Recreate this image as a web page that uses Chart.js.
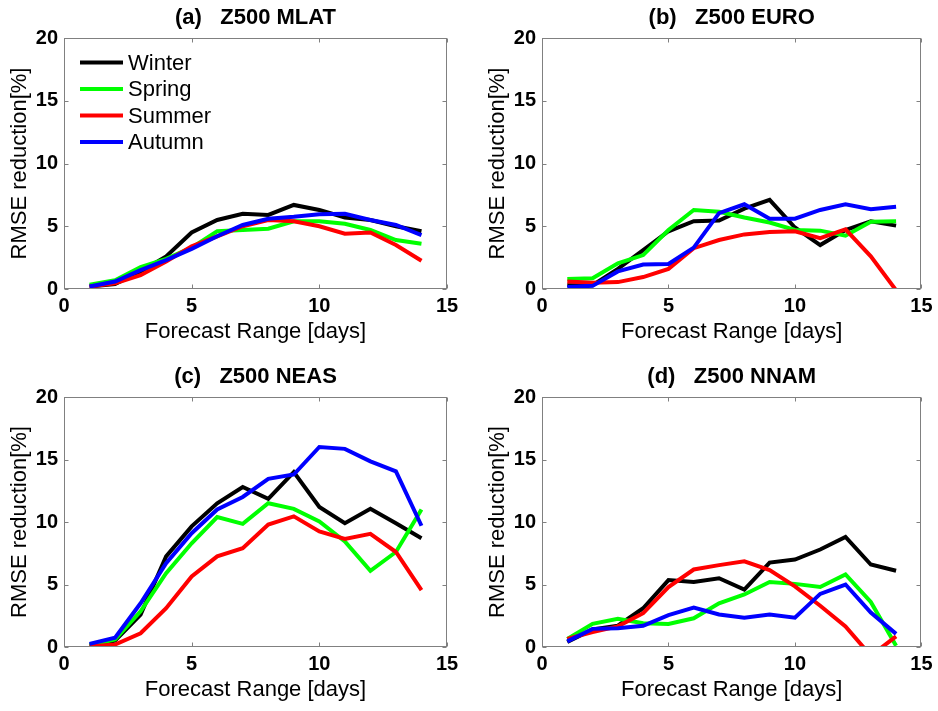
<!DOCTYPE html>
<html>
<head>
<meta charset="utf-8">
<script src="https://cdn.jsdelivr.net/npm/chart.js@4.4.1/dist/chart.umd.min.js"></script>
<style>
  html, body { margin: 0; padding: 0; background: #fff; }
  #wrap { position: relative; width: 938px; height: 711px; overflow: hidden; }
  #wrap canvas { position: absolute; }
</style>
</head>
<body>
<div id="wrap">
  <canvas id="mlat" width="469" height="355" style="left:0;top:0"></canvas>
  <canvas id="euro" width="469" height="355" style="left:469px;top:0"></canvas>
  <canvas id="neas" width="469" height="356" style="left:0;top:355px"></canvas>
  <canvas id="nnam" width="469" height="356" style="left:469px;top:355px"></canvas>
</div>
<script>
const days = [1, 2, 3, 4, 5, 6, 7, 8, 9, 10, 11, 12, 13, 14];
const seasons = ["Winter", "Spring", "Summer", "Autumn"];
const seasonColors = ["#000000", "#00ff00", "#ff0000", "#0000ff"];
const xTicks = [0, 5, 10, 15];
const yTicks = [0, 5, 10, 15, 20];

// (a) Z500 MLAT
const mlatWinter = [0.2, 0.4, 1.4, 2.6, 4.5, 5.5, 6.0, 5.9, 6.7, 6.3, 5.7, 5.5, 5.0, 4.6];
const mlatSpring = [0.35, 0.7, 1.75, 2.4, 3.3, 4.6, 4.7, 4.8, 5.4, 5.4, 5.2, 4.7, 3.9, 3.6];
const mlatSummer = [0.2, 0.45, 1.1, 2.2, 3.4, 4.2, 5.0, 5.5, 5.4, 5.0, 4.4, 4.5, 3.5, 2.25];
const mlatAutumn = [0.2, 0.6, 1.5, 2.3, 3.2, 4.2, 5.1, 5.6, 5.75, 5.95, 6.0, 5.5, 5.1, 4.3];

// (b) Z500 EURO
const euroWinter = [0.3, 0.3, 1.6, 3.1, 4.6, 5.4, 5.45, 6.4, 7.1, 4.9, 3.5, 4.7, 5.4, 5.05];
const euroSpring = [0.8, 0.85, 2.05, 2.7, 4.7, 6.3, 6.15, 5.7, 5.3, 4.7, 4.65, 4.25, 5.35, 5.4];
const euroSummer = [0.6, 0.5, 0.55, 0.95, 1.6, 3.25, 3.9, 4.35, 4.55, 4.6, 4.05, 4.75, 2.6, -0.1];
const euroAutumn = [0.15, 0.25, 1.4, 1.95, 2.0, 3.3, 6.05, 6.75, 5.6, 5.6, 6.3, 6.75, 6.35, 6.55];

// (c) Z500 NEAS
const neasWinter = [0.15, 0.5, 2.6, 7.25, 9.65, 11.5, 12.8, 11.85, 14.0, 11.2, 9.9, 11.05, 9.9, 8.7];
const neasSpring = [0.15, 0.6, 2.85, 5.9, 8.3, 10.4, 9.85, 11.5, 11.05, 10.05, 8.45, 6.1, 7.6, 11.0];
const neasSummer = [0.05, 0.2, 1.1, 3.1, 5.65, 7.25, 7.9, 9.8, 10.45, 9.25, 8.65, 9.05, 7.6, 4.55];
const neasAutumn = [0.25, 0.75, 3.5, 6.7, 9.1, 11.0, 12.0, 13.45, 13.8, 16.0, 15.85, 14.85, 14.05, 9.7];

// (d) Z500 NNAM
const nnamWinter = [0.4, 1.4, 1.7, 3.1, 5.35, 5.2, 5.5, 4.6, 6.75, 7.0, 7.8, 8.8, 6.6, 6.1];
const nnamSpring = [0.65, 1.85, 2.25, 1.9, 1.85, 2.3, 3.5, 4.2, 5.2, 5.05, 4.8, 5.8, 3.6, 0.1];
const nnamSummer = [0.65, 1.2, 1.65, 2.7, 4.8, 6.2, 6.55, 6.85, 6.15, 4.85, 3.3, 1.65, -0.7, 0.85];
const nnamAutumn = [0.45, 1.45, 1.5, 1.7, 2.55, 3.15, 2.6, 2.35, 2.6, 2.35, 4.25, 5.0, 2.75, 1.05];

const FONT = '"Liberation Sans", Arial, Helvetica, sans-serif';
const TITLE_SIZE = 22, TICK_SIZE = 20, LABEL_SIZE = 22, LEGEND_SIZE = 22;
const Y_AXIS_W = 64;   // from the left edge of the y scale box to the plot

// box, inward tick marks (MATLAB style) and the legend of panel (a)
const frame = {
  id: 'frame',
  afterDatasetsDraw(chart, args, opts) {
    const { ctx, chartArea: a, scales: { x, y } } = chart;
    ctx.save();
    ctx.strokeStyle = '#808080';
    ctx.lineWidth = 1;
    const l = Math.round(a.left) + 0.5, r = Math.round(a.right) - 0.5;
    const t = Math.round(a.top) + 0.5, b = Math.round(a.bottom) - 0.5;
    ctx.strokeRect(l, t, r - l, b - t);
    ctx.beginPath();
    xTicks.forEach(v => {
      const px = Math.round(x.getPixelForValue(v)) + 0.5;
      ctx.moveTo(px, b); ctx.lineTo(px, b - 4);
      ctx.moveTo(px, t); ctx.lineTo(px, t + 4);
    });
    yTicks.forEach(v => {
      const py = Math.round(y.getPixelForValue(v)) + 0.5;
      ctx.moveTo(l, py); ctx.lineTo(l + 4, py);
      ctx.moveTo(r, py); ctx.lineTo(r - 4, py);
    });
    ctx.stroke();

    if (opts.legend) {
      ctx.font = LEGEND_SIZE + 'px ' + FONT;
      ctx.textBaseline = 'middle';
      ctx.fillStyle = '#000';
      ctx.lineWidth = 4;
      chart.data.datasets.forEach((ds, i) => {
        const ly = a.top + 24.5 + i * 26.5;
        ctx.strokeStyle = ds.borderColor;
        ctx.beginPath();
        ctx.moveTo(a.left + 16, ly);
        ctx.lineTo(a.left + 59, ly);
        ctx.stroke();
        ctx.fillText(ds.label, a.left + 64, ly + 1);
      });
    }
    ctx.restore();
  }
};

function makePanel(id, title, series, p) {
  const titleLH = TITLE_SIZE * 1.2, labelLH = LABEL_SIZE * 1.2;
  const xAxisH = p.h - p.plotBottom;
  const titlePadTop = p.titleY - titleLH / 2;
  new Chart(document.getElementById(id), {
    type: 'line',
    data: {
      datasets: series.map((vals, i) => ({
        label: seasons[i],
        data: days.map((d, k) => ({ x: d, y: vals[k] })),
        borderColor: seasonColors[i],
        backgroundColor: seasonColors[i],
        borderWidth: 4,
        pointRadius: 0,
        tension: 0,
        clip: 0,
        order: seasons.length - i
      }))
    },
    options: {
      responsive: false,
      animation: false,
      devicePixelRatio: 1,
      layout: { padding: { left: p.plotLeft - Y_AXIS_W, right: p.w - p.plotRight, top: 0, bottom: 0 } },
      plugins: {
        legend: { display: false },
        tooltip: { enabled: false },
        title: {
          display: true,
          fullSize: false,
          text: title,
          color: '#000',
          font: { family: FONT, size: TITLE_SIZE, weight: 'bold' },
          padding: { top: titlePadTop, bottom: p.plotTop - titlePadTop - titleLH }
        },
        frame: { legend: !!p.legend }
      },
      scales: {
        x: {
          type: 'linear', min: 0, max: 15,
          grid: { display: false, drawTicks: false },
          border: { display: false },
          afterFit: s => { s.height = xAxisH; },
          afterBuildTicks: s => { s.ticks = xTicks.map(v => ({ value: v })); },
          ticks: { color: '#000', padding: 5.5, maxRotation: 0, font: { family: FONT, size: TICK_SIZE, weight: 'bold' } },
          title: {
            display: true, text: 'Forecast Range [days]', color: '#000',
            font: { family: FONT, size: LABEL_SIZE },
            padding: { top: 0, bottom: xAxisH - 42.5 - labelLH / 2 }
          }
        },
        y: {
          min: 0, max: 20,
          grid: { display: false, drawTicks: false },
          border: { display: false },
          afterFit: s => { s.width = Y_AXIS_W; },
          afterBuildTicks: s => { s.ticks = yTicks.map(v => ({ value: v })); },
          ticks: { color: '#000', padding: 6, font: { family: FONT, size: TICK_SIZE, weight: 'bold' } },
          title: {
            display: true, text: 'RMSE reduction[%]', color: '#000',
            font: { family: FONT, size: LABEL_SIZE },
            padding: { top: Y_AXIS_W - 44 - labelLH / 2, bottom: 0 }
          }
        }
      }
    },
    plugins: [frame]
  });
}

// plot positions are relative to each canvas
makePanel('mlat', '(a)   Z500 MLAT', [mlatWinter, mlatSpring, mlatSummer, mlatAutumn],
  { w: 469, h: 355, plotLeft: 64, plotRight: 447, plotTop: 38, plotBottom: 289, titleY: 18, legend: true });
makePanel('euro', '(b)   Z500 EURO', [euroWinter, euroSpring, euroSummer, euroAutumn],
  { w: 469, h: 355, plotLeft: 73, plotRight: 455, plotTop: 38, plotBottom: 289, titleY: 18 });
makePanel('neas', '(c)   Z500 NEAS', [neasWinter, neasSpring, neasSummer, neasAutumn],
  { w: 469, h: 356, plotLeft: 64, plotRight: 447, plotTop: 42, plotBottom: 292, titleY: 21.5 });
makePanel('nnam', '(d)   Z500 NNAM', [nnamWinter, nnamSpring, nnamSummer, nnamAutumn],
  { w: 469, h: 356, plotLeft: 73, plotRight: 455, plotTop: 42, plotBottom: 292, titleY: 21.5 });
</script>
</body>
</html>
